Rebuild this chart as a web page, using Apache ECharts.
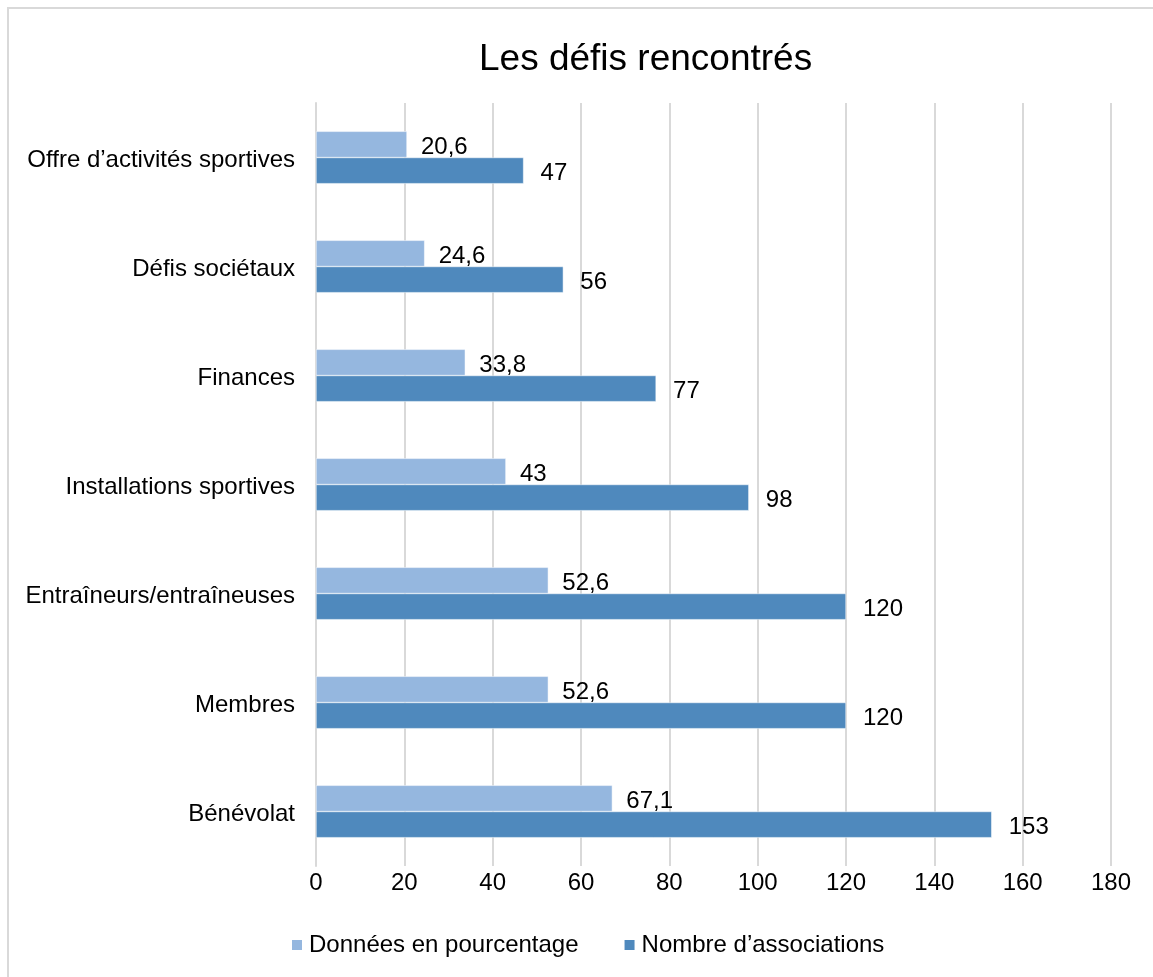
<!DOCTYPE html>
<html><head><meta charset="utf-8">
<script src="https://cdn.jsdelivr.net/npm/echarts@6/dist/echarts.min.js"></script>
<style>
html,body{margin:0;padding:0;background:#fff;}
#frame{position:absolute;left:7px;top:7px;width:1160px;height:990px;border:2px solid #d9d9d9;box-sizing:border-box;}
#main{position:absolute;left:0;top:0;width:1153px;height:977px;}
</style></head>
<body>
<div id="frame"></div>
<div id="main"></div>
<script>
const categories = ["Offre d’activités sportives","Défis sociétaux","Finances","Installations sportives","Entraîneurs/entraîneuses","Membres","Bénévolat"];
const pctValues = [20.6, 24.6, 33.8, 43, 52.6, 52.6, 67.1];
const countValues = [47, 56, 77, 98, 120, 120, 153];
const seriesNames = ["Données en pourcentage","Nombre d’associations"];
const FONT = "'Liberation Sans', Arial, sans-serif";
const chart = echarts.init(document.getElementById('main'), null, {renderer:'canvas'});
const fmt = p => String(p.value).replace('.', ',');
chart.setOption({
  animation:false,
  backgroundColor:'transparent',
  title:{text:'Les défis rencontrés',left:474,top:36,itemGap:0,textStyle:{fontFamily:FONT,fontSize:37,fontWeight:'normal',color:'#000'}},
  legend:{bottom:15,left:285,itemWidth:12,itemHeight:12,itemGap:44,icon:'rect',
    textStyle:{fontFamily:FONT,fontSize:24,color:'#000',padding:[0,0,0,1]},data:seriesNames},
  grid:{left:316,right:42,top:103,bottom:111,containLabel:false},
  xAxis:{type:'value',min:0,max:180,interval:20,
    axisLine:{show:false},axisTick:{show:false},
    splitLine:{show:true,lineStyle:{color:'#d9d9d9',width:2}},
    axisLabel:{fontFamily:FONT,fontSize:24,color:'#000',margin:5}},
  yAxis:{type:'category',inverse:true,data:categories,
    axisLine:{show:true,lineStyle:{color:'#d9d9d9',width:2}},axisTick:{show:false},
    axisLabel:{fontFamily:FONT,fontSize:24,color:'#000',margin:21,
      formatter:v => '{c|' + v + '}',
      rich:{c:{fontFamily:FONT,fontSize:24,color:'#000',padding:[5,0,0,0]}}}},
  series:[
    {name:seriesNames[0],type:'bar',data:pctValues,barGap:'0%',barCategoryGap:'52%',
      itemStyle:{color:'#95b7df',borderColor:'#fff',borderWidth:0.5},
      label:{show:true,position:'right',distance:14,offset:[0,3],fontFamily:FONT,fontSize:24,color:'#000',formatter:fmt}},
    {name:seriesNames[1],type:'bar',data:countValues,barGap:'0%',barCategoryGap:'52%',
      itemStyle:{color:'#4f89bd',borderColor:'#fff',borderWidth:0.5},
      label:{show:true,position:'right',distance:17,offset:[0,3],fontFamily:FONT,fontSize:24,color:'#000',formatter:fmt}}
  ]
});
</script>
</body></html>
